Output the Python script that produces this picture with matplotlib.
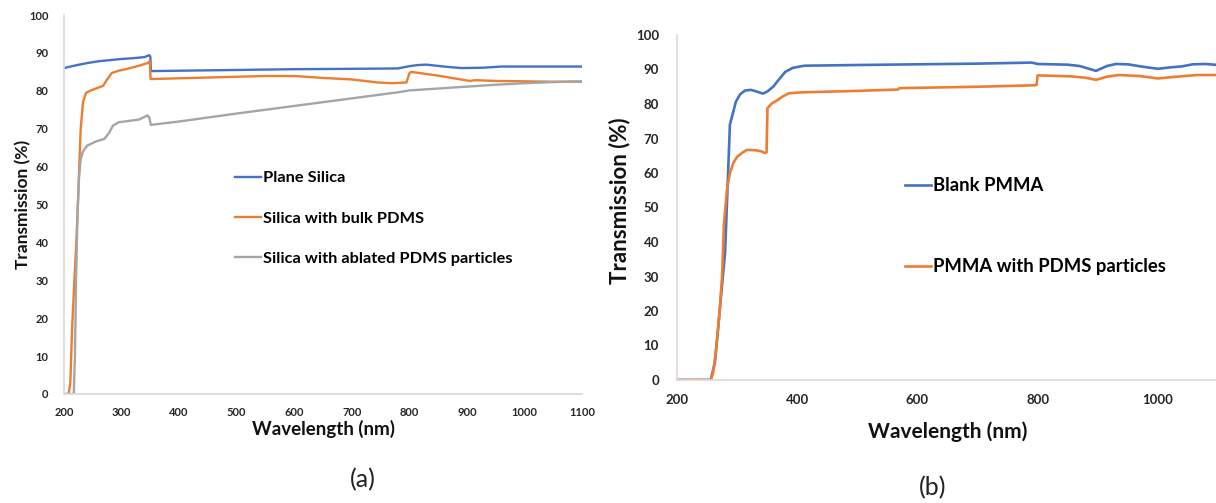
import matplotlib
matplotlib.use("Agg")
import matplotlib.pyplot as plt

plt.rcParams['font.family'] = ['Lato', 'DejaVu Sans']

BLUE = '#4472C4'
ORANGE = '#ED7D31'
GRAY = '#A5A5A5'
AXIS = '#D9D9D9'

# ---- (a) silica samples ----
silica_wl = [200, 220, 240, 260, 280, 300, 320, 340, 348, 350, 351, 400, 500, 600,
             700, 780, 800, 815, 830, 860, 890, 930, 960, 1000, 1050, 1100]
silica_T = [86.0, 86.7, 87.3, 87.8, 88.1, 88.4, 88.6, 88.9, 89.4, 89.0, 85.2, 85.3,
            85.5, 85.7, 85.8, 85.9, 86.5, 86.8, 86.9, 86.4, 86.0, 86.1, 86.4, 86.4,
            86.4, 86.4]

bulk_wl = [200, 208, 211, 214, 218, 222, 226, 229, 233, 238, 245, 257, 268, 274, 283,
           295, 310, 330, 345, 349, 350.5, 400, 450, 550, 600, 650, 700, 745, 770,
           795, 800, 803, 850, 905, 915, 950, 1000, 1050, 1100]
bulk_T = [0, 0, 3, 17, 30, 42, 58, 70, 77, 79.4, 80.0, 80.7, 81.3, 82.8, 84.7, 85.3,
          85.8, 86.6, 87.3, 87.8, 83.1, 83.3, 83.5, 83.9, 83.9, 83.4, 83.0, 82.2,
          82.0, 82.2, 84.6, 85.0, 84.0, 82.6, 82.8, 82.6, 82.5, 82.4, 82.4]

ablated_wl = [200, 217, 219, 221, 223, 226, 229, 233, 240, 255, 270, 278, 285, 295,
              310, 330, 345, 348, 351, 400, 500, 600, 700, 780, 800, 850, 900, 950,
              1000, 1050, 1100]
ablated_T = [0, 0, 10, 30, 45, 57, 62, 64, 65.5, 66.6, 67.3, 68.8, 70.8, 71.7, 72.0,
             72.4, 73.5, 73.0, 71.0, 71.9, 74.0, 76.0, 78.0, 79.6, 80.1, 80.6, 81.1,
             81.6, 82.0, 82.3, 82.5]

a_series = [("Plane Silica", silica_wl, silica_T, BLUE),
            ("Silica with bulk PDMS", bulk_wl, bulk_T, ORANGE),
            ("Silica with ablated PDMS particles", ablated_wl, ablated_T, GRAY)]
a_xticks = [200, 300, 400, 500, 600, 700, 800, 900, 1000, 1100]

# ---- (b) PMMA samples ----
pmma_wl = [200, 256, 263, 271, 280, 285, 288, 298, 305, 313, 323, 333, 343, 350, 360,
           370, 380, 393, 412, 500, 600, 700, 790, 800, 850, 870, 897, 915, 930, 950,
           975, 1000, 1020, 1040, 1058, 1080, 1100]
pmma_T = [0, 0, 5, 20, 37, 60, 74, 80.7, 82.8, 83.9, 84.1, 83.6, 83.0, 83.6, 85.0,
          87.2, 89.3, 90.5, 91.1, 91.3, 91.5, 91.7, 92.0, 91.6, 91.4, 91.0, 89.6,
          91.0, 91.6, 91.5, 90.8, 90.2, 90.6, 90.9, 91.5, 91.6, 91.3]

pmma_pdms_wl = [200, 256, 260, 265, 270, 275, 278, 283, 288, 294, 300, 308, 316, 330,
                340, 346, 349, 350.5, 358, 366, 376, 386, 400, 412, 500, 568, 570,
                700, 790, 798, 800, 856, 880, 897, 915, 935, 970, 1000, 1030, 1065,
                1100]
pmma_pdms_T = [0, 0, 2, 8.7, 18, 30, 45, 55, 60, 63, 64.7, 65.8, 66.7, 66.6, 66.3,
               65.8, 66.0, 78.8, 80.2, 81.0, 82.2, 83.1, 83.3, 83.4, 83.8, 84.2, 84.6,
               85.0, 85.4, 85.5, 88.3, 88.0, 87.6, 87.0, 87.9, 88.4, 88.1, 87.4, 87.9,
               88.4, 88.4]

b_series = [("Blank PMMA", pmma_wl, pmma_T, BLUE),
            ("PMMA with PDMS particles", pmma_pdms_wl, pmma_pdms_T, ORANGE)]
b_xticks = [200, 400, 600, 800, 1000]

yticks = [0, 10, 20, 30, 40, 50, 60, 70, 80, 90, 100]

W, H = 1216, 503
fig = plt.figure(figsize=(W / 100, H / 100), dpi=100)


def px_axes(left, top, right, bottom):
    return fig.add_axes([left / W, 1 - bottom / H, (right - left) / W, (bottom - top) / H])


def style(ax, tick_size, pad_y, pad_x, xlabel_size, ylabel_size, labelpad):
    for s in ('top', 'right'):
        ax.spines[s].set_visible(False)
    for s in ('left', 'bottom'):
        ax.spines[s].set_color(AXIS)
        ax.spines[s].set_linewidth(1.2)
    ax.tick_params(length=0, labelsize=tick_size, colors='#262626')
    ax.tick_params(axis='y', pad=pad_y)
    ax.tick_params(axis='x', pad=pad_x)
    for lab in ax.get_xticklabels() + ax.get_yticklabels():
        lab.set_fontweight('bold')
    ax.set_ylim(0, 100)
    ax.set_yticks(yticks)
    ax.set_xlabel("Wavelength (nm)", fontsize=xlabel_size, fontweight='bold',
                  labelpad=labelpad, color='#111111')
    ax.set_ylabel("Transmission (%)", fontsize=ylabel_size, fontweight='bold',
                  color='#111111')


# panel (a)
ax1 = px_axes(64, 15, 582, 394)
for name, wl, T, c in a_series:
    ax1.plot(wl, T, color=c, lw=1.7, label=name, solid_joinstyle='round')
ax1.set_xlim(200, 1100)
ax1.set_xticks(a_xticks)
style(ax1, 8, 11, 9, 13.5, 12.5, 1.5)
ax1.legend(loc='upper left', bbox_to_anchor=(235 / W, 1 - 171 / H),
           bbox_transform=fig.transFigure, frameon=False, handlelength=1.6,
           handletextpad=0.08, labelspacing=1.57, borderaxespad=0, borderpad=0,
           prop={'weight': 'bold', 'size': 11.8})
ax1.yaxis.set_label_coords(-0.0635, 0.5)

# panel (b)
ax2 = px_axes(677, 35, 1218, 380)
for name, wl, T, c in b_series:
    ax2.plot(wl, T, color=c, lw=1.9, label=name, solid_joinstyle='round')
ax2.set_xlim(200, 1100)
ax2.set_xticks(b_xticks)
style(ax2, 9.5, 13, 10, 15, 16, 11)
ax2.legend(loc='upper left', bbox_to_anchor=(905 / W, 1 - 177 / H),
           bbox_transform=fig.transFigure, frameon=False, handlelength=1.4,
           handletextpad=0.1, labelspacing=3.47, borderaxespad=0, borderpad=0,
           prop={'weight': 'bold', 'size': 13.3})
ax2.yaxis.set_label_coords(-0.087, 0.52)

fig.text(363 / W, 1 - 480 / H, "(a)", ha='center', va='center', fontsize=18, color='#222222')
fig.text(933 / W, 1 - 488 / H, "(b)", ha='center', va='center', fontsize=18, color='#222222')

fig.savefig("out.png", dpi=100)
